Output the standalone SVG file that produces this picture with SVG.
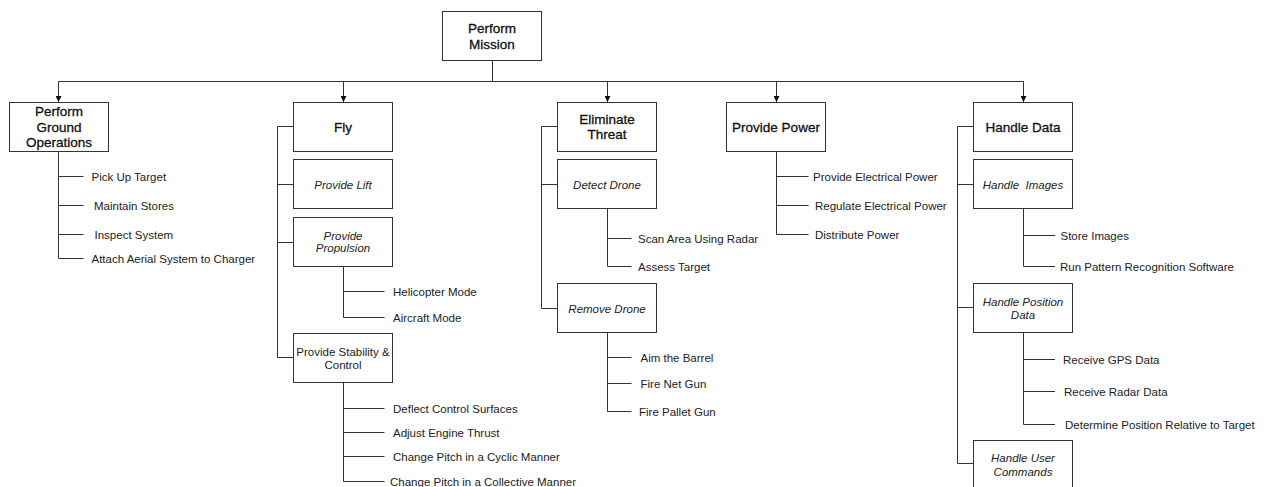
<svg xmlns="http://www.w3.org/2000/svg" width="1265" height="487" viewBox="0 0 1265 487">
  <defs>
    <style>
      .box { fill: #ffffff; stroke: #333333; stroke-width: 1; }
      .ln { fill: none; stroke: #333333; stroke-width: 1; }
      .title { font-family: "Liberation Sans", Arial, sans-serif; font-size: 13.5px; fill: #111111; stroke: #111111; stroke-width: 0.3; text-anchor: middle; }
      .sub { font-family: "Liberation Sans", Arial, sans-serif; font-size: 11.5px; fill: #222222; text-anchor: middle; font-style: italic; }
      .plain { font-family: "Liberation Sans", Arial, sans-serif; font-size: 11.5px; fill: #222222; text-anchor: middle; }
      .item { font-family: "Liberation Sans", Arial, sans-serif; font-size: 11.5px; fill: #222222; }
    </style>
    <marker id="arrow" viewBox="0 0 10 10" refX="10" refY="5" markerWidth="6" markerHeight="6" markerUnits="userSpaceOnUse" orient="auto">
      <path d="M0,0 L10,5 L0,10 z" fill="#111111"/>
    </marker>
  </defs>
  <rect width="1265" height="487" fill="#ffffff"/>

  <!-- connectors -->
  <g id="connectors">
    <!-- root bus -->
    <path class="ln" d="M492.5,60.5 V81.5 M58.5,81.5 H1023.5"/>
    <path class="ln" d="M58.5,81.5 V102" marker-end="url(#arrow)"/>
    <path class="ln" d="M343.5,81.5 V102" marker-end="url(#arrow)"/>
    <path class="ln" d="M607.5,81.5 V102" marker-end="url(#arrow)"/>
    <path class="ln" d="M776.5,81.5 V102" marker-end="url(#arrow)"/>
    <path class="ln" d="M1023.5,81.5 V102" marker-end="url(#arrow)"/>

    <!-- ground operations items -->
    <path class="ln" d="M58.5,151 V258.5 H83.5 M58.5,176.5 H83.5 M58.5,205.5 H83.5 M58.5,234.5 H83.5"/>

    <!-- fly trunk -->
    <path class="ln" d="M293.5,126.5 H277.5 V357.5 H293.5 M277.5,184.5 H293.5 M277.5,242.5 H293.5"/>
    <path class="ln" d="M343.5,266.5 V317.5 H384.5 M343.5,291.5 H384.5"/>
    <path class="ln" d="M343.5,382.5 V481.5 H384.5 M343.5,408.5 H384.5 M343.5,432.5 H384.5 M343.5,456.5 H384.5"/>

    <!-- eliminate threat trunk -->
    <path class="ln" d="M557.5,126.5 H541.5 V308.5 H557.5 M541.5,184.5 H557.5"/>
    <path class="ln" d="M607.5,208.5 V266.5 H631.5 M607.5,238.5 H631.5"/>
    <path class="ln" d="M607.5,332.5 V411.5 H631.5 M607.5,357.5 H631.5 M607.5,383.5 H631.5"/>

    <!-- provide power items -->
    <path class="ln" d="M776.5,151 V234.5 H808.5 M776.5,176.5 H808.5 M776.5,205.5 H808.5"/>

    <!-- handle data trunk -->
    <path class="ln" d="M973.5,126.5 H957.5 V463.5 H973.5 M957.5,184.5 H973.5 M957.5,307.5 H973.5"/>
    <path class="ln" d="M1023.5,208.5 V266.5 H1055 M1023.5,235.5 H1055"/>
    <path class="ln" d="M1023.5,332.5 V424.5 H1055 M1023.5,359.5 H1055 M1023.5,391.5 H1055"/>
  </g>

  <!-- root -->
  <g id="perform-mission">
    <rect class="box" x="442.5" y="11.5" width="99" height="49"/>
    <text class="title" x="492" y="32.5">Perform</text>
    <text class="title" x="492" y="48.5">Mission</text>
  </g>

  <!-- ground operations -->
  <g id="perform-ground-operations">
    <rect class="box" x="9.5" y="102.5" width="99" height="49"/>
    <text class="title" x="59" y="115.5">Perform</text>
    <text class="title" x="59" y="131.5">Ground</text>
    <text class="title" x="59" y="147">Operations</text>
  </g>
  <g id="ground-items">
    <text class="item" x="91.5" y="180.5">Pick Up Target</text>
    <text class="item" x="94" y="209.5">Maintain Stores</text>
    <text class="item" x="94.5" y="238.5">Inspect System</text>
    <text class="item" x="91.5" y="262.5">Attach Aerial System to Charger</text>
  </g>

  <!-- fly -->
  <g id="fly">
    <rect class="box" x="293.5" y="102.5" width="99" height="49"/>
    <text class="title" x="343" y="131.5">Fly</text>
  </g>
  <g id="provide-lift">
    <rect class="box" x="293.5" y="159.5" width="99" height="49"/>
    <text class="sub" x="343" y="188.5">Provide Lift</text>
  </g>
  <g id="provide-propulsion">
    <rect class="box" x="293.5" y="217.5" width="99" height="49"/>
    <text class="sub" x="343" y="239.5">Provide</text>
    <text class="sub" x="343" y="252">Propulsion</text>
  </g>
  <g id="propulsion-items">
    <text class="item" x="393" y="295.5">Helicopter Mode</text>
    <text class="item" x="393" y="321.5">Aircraft Mode</text>
  </g>
  <g id="provide-stability-control">
    <rect class="box" x="293.5" y="333.5" width="99" height="49"/>
    <text class="plain" x="343" y="355.5">Provide Stability &amp;</text>
    <text class="plain" x="343" y="368.5">Control</text>
  </g>
  <g id="stability-items">
    <text class="item" x="393" y="412.5">Deflect Control Surfaces</text>
    <text class="item" x="393" y="436.5">Adjust Engine Thrust</text>
    <text class="item" x="393" y="460.5">Change Pitch in a Cyclic Manner</text>
    <text class="item" x="390" y="485.5">Change Pitch in a Collective Manner</text>
  </g>

  <!-- eliminate threat -->
  <g id="eliminate-threat">
    <rect class="box" x="557.5" y="102.5" width="99" height="49"/>
    <text class="title" x="607" y="123.5">Eliminate</text>
    <text class="title" x="607" y="139">Threat</text>
  </g>
  <g id="detect-drone">
    <rect class="box" x="557.5" y="159.5" width="99" height="49"/>
    <text class="sub" x="607" y="188.5">Detect Drone</text>
  </g>
  <g id="detect-items">
    <text class="item" x="638" y="242.5">Scan Area Using Radar</text>
    <text class="item" x="638" y="270.5">Assess Target</text>
  </g>
  <g id="remove-drone">
    <rect class="box" x="557.5" y="283.5" width="99" height="49"/>
    <text class="sub" x="607" y="312.5">Remove Drone</text>
  </g>
  <g id="remove-items">
    <text class="item" x="640.5" y="361.5">Aim the Barrel</text>
    <text class="item" x="640.5" y="387.5">Fire Net Gun</text>
    <text class="item" x="639" y="415.5">Fire Pallet Gun</text>
  </g>

  <!-- provide power -->
  <g id="provide-power">
    <rect class="box" x="726.5" y="102.5" width="99" height="49"/>
    <text class="title" x="776" y="131.5">Provide Power</text>
  </g>
  <g id="power-items">
    <text class="item" x="813" y="180.5">Provide Electrical Power</text>
    <text class="item" x="815" y="209.5">Regulate Electrical Power</text>
    <text class="item" x="815" y="238.5">Distribute Power</text>
  </g>

  <!-- handle data -->
  <g id="handle-data">
    <rect class="box" x="973.5" y="102.5" width="99" height="49"/>
    <text class="title" x="1023" y="131.5">Handle Data</text>
  </g>
  <g id="handle-images">
    <rect class="box" x="973.5" y="159.5" width="99" height="49"/>
    <text class="sub" x="1023" y="188.5" style="white-space:pre">Handle  Images</text>
  </g>
  <g id="image-items">
    <text class="item" x="1060.5" y="239.5">Store Images</text>
    <text class="item" x="1060" y="270.5">Run Pattern Recognition Software</text>
  </g>
  <g id="handle-position-data">
    <rect class="box" x="973.5" y="283.5" width="99" height="49"/>
    <text class="sub" x="1023" y="306">Handle Position</text>
    <text class="sub" x="1023" y="319">Data</text>
  </g>
  <g id="position-items">
    <text class="item" x="1063" y="363.5">Receive GPS Data</text>
    <text class="item" x="1064" y="395.5">Receive Radar Data</text>
    <text class="item" x="1065" y="428.5">Determine Position Relative to Target</text>
  </g>
  <g id="handle-user-commands">
    <rect class="box" x="973.5" y="440.5" width="99" height="60"/>
    <text class="sub" x="1023" y="462">Handle User</text>
    <text class="sub" x="1023" y="475.5">Commands</text>
  </g>
</svg>
